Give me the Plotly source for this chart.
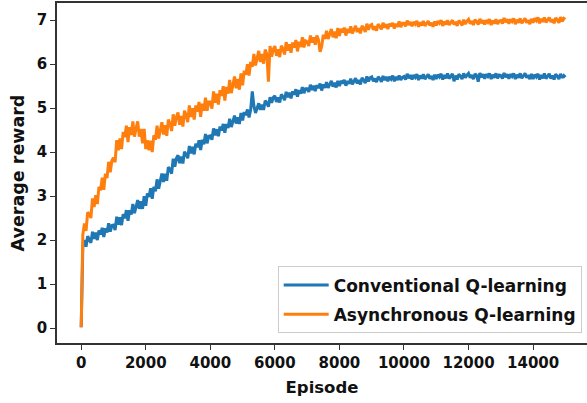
import plotly.graph_objects as go

episodes = list(range(0, 15001, 50))

conventional = [
    0.02, 1.86, 2.00, 1.85, 2.09, 2.03, 1.94, 2.19, 2.03, 2.17, 2.00, 2.22, 2.13, 2.28, 2.07, 2.27, 2.17, 2.38, 2.19, 2.33,
    2.34, 2.23, 2.53, 2.35, 2.52, 2.34, 2.59, 2.50, 2.68, 2.44, 2.68, 2.58, 2.82, 2.61, 2.77, 2.91, 2.71, 2.88, 2.71, 3.00,
    2.78, 3.06, 2.98, 3.18, 2.94, 3.21, 3.11, 3.38, 3.17, 3.36, 3.51, 3.32, 3.51, 3.35, 3.66, 3.61, 3.51, 3.85, 3.67, 3.86,
    3.93, 3.75, 3.90, 3.74, 4.01, 3.95, 3.86, 4.14, 3.97, 4.12, 3.95, 4.19, 4.11, 4.27, 4.05, 4.28, 4.18, 4.41, 4.20, 4.36,
    4.37, 4.28, 4.54, 4.38, 4.52, 4.36, 4.58, 4.49, 4.64, 4.44, 4.64, 4.55, 4.76, 4.57, 4.71, 4.83, 4.65, 4.79, 4.64, 4.89,
    4.72, 4.91, 4.84, 4.97, 4.79, 4.96, 5.38, 5.05, 4.89, 5.01, 5.11, 4.96, 5.08, 4.96, 5.17, 5.12, 5.03, 5.25, 5.12, 5.24,
    5.28, 5.14, 5.24, 5.13, 5.31, 5.26, 5.18, 5.37, 5.25, 5.35, 5.22, 5.38, 5.31, 5.43, 5.26, 5.41, 5.33, 5.48, 5.34, 5.44,
    5.44, 5.37, 5.53, 5.41, 5.51, 5.39, 5.52, 5.46, 5.56, 5.40, 5.54, 5.46, 5.59, 5.46, 5.55, 5.62, 5.49, 5.58, 5.47, 5.62,
    5.50, 5.62, 5.56, 5.64, 5.51, 5.62, 5.55, 5.67, 5.54, 5.63, 5.68, 5.56, 5.64, 5.54, 5.69, 5.64, 5.57, 5.72, 5.61, 5.69,
    5.71, 5.61, 5.67, 5.59, 5.71, 5.67, 5.60, 5.73, 5.64, 5.71, 5.61, 5.71, 5.66, 5.74, 5.61, 5.71, 5.64, 5.74, 5.64, 5.70,
    5.72, 5.65, 5.78, 5.68, 5.75, 5.65, 5.75, 5.70, 5.77, 5.64, 5.74, 5.67, 5.77, 5.66, 5.72, 5.77, 5.67, 5.73, 5.64, 5.76,
    5.66, 5.76, 5.71, 5.78, 5.65, 5.75, 5.68, 5.79, 5.67, 5.73, 5.78, 5.61, 5.74, 5.65, 5.77, 5.73, 5.66, 5.79, 5.69, 5.75,
    5.79, 5.69, 5.75, 5.66, 5.78, 5.74, 5.60, 5.80, 5.70, 5.77, 5.67, 5.77, 5.72, 5.79, 5.66, 5.76, 5.69, 5.79, 5.68, 5.75,
    5.74, 5.67, 5.80, 5.70, 5.77, 5.67, 5.77, 5.72, 5.79, 5.66, 5.76, 5.69, 5.79, 5.68, 5.74, 5.79, 5.69, 5.75, 5.66, 5.78,
    5.66, 5.76, 5.71, 5.78, 5.65, 5.75, 5.68, 5.79, 5.67, 5.73, 5.78, 5.67, 5.74, 5.65, 5.77, 5.73, 5.66, 5.78, 5.69, 5.74,
    5.70,
]

asynchronous = [
    0.02, 2.12, 2.38, 2.21, 2.63, 2.60, 2.50, 2.95, 2.75, 3.02, 2.82, 3.21, 3.13, 3.42, 3.14, 3.51, 3.41, 3.78, 3.54, 3.81,
    3.87, 3.77, 4.27, 4.04, 4.31, 4.07, 4.46, 4.34, 4.60, 4.23, 4.57, 4.39, 4.70, 4.35, 4.54, 4.70, 4.35, 4.53, 4.20, 4.53,
    4.07, 4.27, 4.04, 4.26, 4.00, 4.38, 4.28, 4.60, 4.31, 4.52, 4.68, 4.40, 4.61, 4.37, 4.74, 4.64, 4.48, 4.86, 4.60, 4.80,
    4.90, 4.62, 4.82, 4.58, 4.94, 4.84, 4.68, 5.06, 4.80, 5.00, 4.74, 5.06, 4.92, 5.14, 4.80, 5.10, 4.94, 5.24, 4.94, 5.14,
    5.14, 4.99, 5.38, 5.12, 5.33, 5.08, 5.41, 5.28, 5.50, 5.17, 5.48, 5.33, 5.64, 5.34, 5.55, 5.72, 5.45, 5.66, 5.42, 5.79,
    5.52, 5.85, 5.76, 6.00, 5.74, 6.05, 5.94, 6.23, 5.97, 6.16, 6.30, 6.05, 6.23, 6.01, 6.33, 6.23, 5.60, 6.41, 6.17, 6.34,
    6.41, 6.19, 6.34, 6.16, 6.42, 6.35, 6.22, 6.50, 6.31, 6.45, 6.26, 6.49, 6.38, 6.55, 6.29, 6.51, 6.39, 6.61, 6.38, 6.53,
    6.51, 6.41, 6.65, 6.49, 6.61, 6.44, 6.65, 6.55, 6.28, 6.40, 6.67, 6.57, 6.76, 6.57, 6.70, 6.80, 6.61, 6.74, 6.59, 6.82,
    6.64, 6.80, 6.72, 6.83, 6.65, 6.80, 6.71, 6.86, 6.70, 6.80, 6.87, 6.73, 6.82, 6.70, 6.87, 6.82, 6.73, 6.92, 6.78, 6.88,
    6.90, 6.78, 6.86, 6.76, 6.91, 6.86, 6.79, 6.94, 6.83, 6.91, 6.80, 6.92, 6.86, 6.94, 6.81, 6.92, 6.85, 6.97, 6.84, 6.93,
    6.93, 6.86, 6.99, 6.89, 6.96, 6.86, 6.96, 6.91, 6.98, 6.85, 6.95, 6.88, 6.98, 6.87, 6.93, 6.98, 6.88, 6.94, 6.85, 6.97,
    6.88, 6.98, 6.93, 7.00, 6.87, 6.97, 6.90, 7.00, 6.89, 6.95, 7.00, 6.90, 6.96, 6.87, 6.99, 6.95, 6.88, 7.01, 6.91, 6.98,
    7.02, 6.92, 6.98, 6.89, 7.01, 6.97, 6.90, 7.03, 6.93, 7.00, 6.90, 7.00, 6.95, 7.02, 6.89, 6.99, 6.92, 7.02, 6.91, 6.98,
    6.99, 6.92, 7.05, 6.95, 7.02, 6.92, 7.02, 6.97, 7.04, 6.91, 7.01, 6.94, 7.04, 6.93, 6.99, 7.04, 6.94, 7.00, 6.91, 7.03,
    6.94, 7.04, 6.99, 7.06, 6.93, 7.03, 6.96, 7.06, 6.95, 7.01, 7.06, 6.96, 7.02, 6.93, 7.05, 7.01, 6.94, 7.07, 6.97, 7.04,
    7.02,
]

x_ticks = [0, 2000, 4000, 6000, 8000, 10000, 12000, 14000]
y_ticks = [0, 1, 2, 3, 4, 5, 6, 7]

FONT = "DejaVu Sans"
AX = "#333333"

fig = go.Figure()
fig.add_trace(go.Scatter(x=episodes, y=conventional, mode="lines",
                         name="<b>Conventional Q-learning</b>", legendgroup="a",
                         line=dict(color="#1f77b4", width=3)))
fig.add_trace(go.Scatter(x=episodes, y=asynchronous, mode="lines",
                         name="<b>Asynchronous Q-learning</b>", legendgroup="b",
                         line=dict(color="#ff7f0e", width=3)))

fig.update_layout(
    width=587, height=403,
    margin=dict(l=57, r=0, t=3, b=60),
    paper_bgcolor="white", plot_bgcolor="white",
    font=dict(family=FONT, size=15, color="#111111"),
    showlegend=True,
    legend=dict(x=0.99, y=0.028, xanchor="right", yanchor="bottom",
                traceorder="grouped", tracegroupgap=4, itemwidth=45,
                bgcolor="rgba(255,255,255,0.85)", bordercolor="#cccccc",
                borderwidth=1, font=dict(family=FONT, size=17, color="#111111")),
)
fig.update_xaxes(
    range=[-750, 15670], tickvals=x_ticks,
    ticktext=[f"<b>{t}</b>" for t in x_ticks],
    showgrid=False, zeroline=False,
    showline=True, linecolor=AX, linewidth=1.5, mirror=True,
    ticks="outside", ticklen=5, tickcolor=AX, tickwidth=1.2,
    title=dict(text="<b>Episode</b>", font=dict(size=16.5), standoff=11),
)
fig.update_yaxes(
    range=[-0.34, 7.39], tickvals=y_ticks,
    ticktext=[f"<b>{t}</b>" for t in y_ticks],
    showgrid=False, zeroline=False,
    showline=True, linecolor=AX, linewidth=1.5, mirror=False,
    ticks="outside", ticklen=5, tickcolor=AX, tickwidth=1.2,
    title=dict(text="<b>Average reward</b>", font=dict(size=17.5), standoff=8),
)

fig.write_html("out.html")
